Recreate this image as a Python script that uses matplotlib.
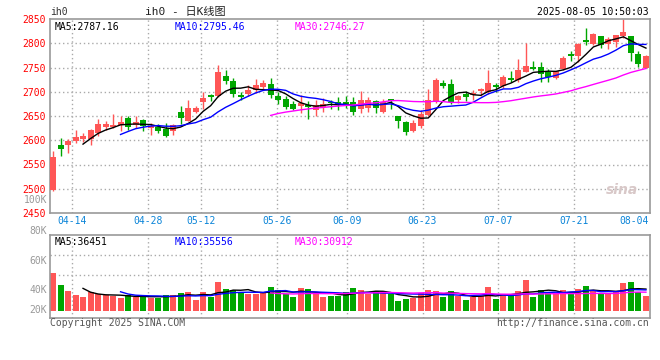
import matplotlib
matplotlib.use('Agg')
import matplotlib.pyplot as plt
import numpy as np
import pandas as pd

plt.rcParams['font.family'] = ['DejaVu Sans Mono', 'Noto Sans CJK SC']

# daily bars of ih0, oldest first
opens = [2498, 2591, 2591, 2599, 2603, 2603, 2614, 2627, 2628, 2631,
         2646, 2631, 2642, 2626, 2627, 2623, 2620, 2659, 2640, 2659,
         2679, 2694, 2692, 2733, 2723, 2694, 2696, 2704, 2710, 2716,
         2692, 2686, 2675, 2671, 2673, 2663, 2668, 2679, 2679, 2678,
         2678, 2664, 2666, 2680, 2658, 2685, 2651, 2638, 2620, 2629,
         2653, 2678, 2718, 2716, 2683, 2695, 2694, 2701, 2699, 2714,
         2711, 2729, 2725, 2740, 2752, 2751, 2740, 2728, 2747, 2777,
         2773, 2807, 2799, 2815, 2798, 2802, 2814, 2815, 2777, 2750]
highs = [2577, 2605, 2602, 2622, 2614, 2623, 2644, 2639, 2655, 2651,
         2651, 2649, 2644, 2635, 2634, 2635, 2634, 2671, 2683, 2671,
         2700, 2696, 2755, 2745, 2729, 2700, 2714, 2727, 2725, 2729,
         2700, 2692, 2680, 2694, 2680, 2682, 2688, 2683, 2690, 2692,
         2690, 2701, 2690, 2683, 2685, 2686, 2651, 2639, 2642, 2663,
         2706, 2729, 2725, 2727, 2693, 2701, 2703, 2707, 2744, 2719,
         2735, 2742, 2768, 2801, 2764, 2761, 2747, 2743, 2773, 2783,
         2800, 2831, 2821, 2815, 2812, 2817, 2851, 2815, 2784, 2775]
lows = [2495, 2567, 2573, 2594, 2596, 2591, 2608, 2622, 2625, 2620,
        2622, 2625, 2620, 2611, 2614, 2607, 2611, 2634, 2640, 2657,
        2665, 2681, 2689, 2716, 2689, 2682, 2692, 2697, 2703, 2688,
        2675, 2664, 2662, 2656, 2644, 2651, 2659, 2664, 2663, 2666,
        2653, 2657, 2659, 2656, 2656, 2665, 2625, 2611, 2616, 2625,
        2649, 2677, 2707, 2675, 2677, 2680, 2683, 2692, 2695, 2699,
        2707, 2720, 2721, 2740, 2745, 2721, 2721, 2727, 2745, 2764,
        2762, 2797, 2797, 2790, 2788, 2792, 2810, 2764, 2752, 2750]
closes = [2565, 2581, 2598, 2607, 2609, 2622, 2634, 2633, 2632, 2638,
          2627, 2638, 2629, 2630, 2620, 2609, 2631, 2646, 2667, 2666,
          2688, 2689, 2740, 2723, 2696, 2689, 2703, 2714, 2719, 2693,
          2684, 2668, 2665, 2677, 2669, 2672, 2675, 2677, 2672, 2675,
          2659, 2683, 2683, 2666, 2679, 2680, 2639, 2618, 2635, 2655,
          2683, 2725, 2711, 2678, 2692, 2690, 2698, 2705, 2719, 2709,
          2731, 2725, 2744, 2753, 2747, 2737, 2731, 2742, 2769, 2773,
          2798, 2803, 2819, 2797, 2809, 2817, 2824, 2779, 2757, 2773]
volumes = [63300, 42790, 32800, 26140, 23310, 31640, 27800, 26140, 24480, 21650,
           26140, 23310, 26140, 21650, 21650, 26140, 26140, 29970, 31640, 17820,
           31640, 23310, 48290, 36130, 34470, 30470, 28800, 28800, 29970, 39960,
           34470, 28800, 23310, 38300, 36130, 28800, 23310, 24480, 24980, 31640,
           38300, 34470, 27800, 32800, 30470, 28800, 16650, 19480, 22140, 29970,
           34470, 32800, 23310, 32800, 24480, 17820, 23310, 24480, 39960, 19480,
           27800, 24480, 32800, 51120, 23310, 34470, 31640, 27800, 34470, 27800,
           36130, 41130, 34470, 28800, 27800, 31640, 46620, 48290, 31640, 24480]

date_labels = ['04-14', '04-28', '05-12', '05-26', '06-09', '06-23', '07-07', '07-21', '08-04']
date_pos = [2.57, 12.66, 19.76, 29.91, 39.13, 49.23, 59.29, 69.41, 79.54]
price_ticks = [2450, 2500, 2550, 2600, 2650, 2700, 2750, 2800, 2850]

RED = '#ff5656'
GREEN = '#00a600'
GRID = '#aaaaaa'
FRAME = '#999999'
W, H = 660, 360

def fx(x):
    return x / W

def fy(y):
    return 1 - y / H

n = len(closes)
idx = np.arange(n)
o = np.array(opens); c = np.array(closes)
cols = [RED if c[i] >= o[i] else GREEN for i in range(n)]

fig = plt.figure(figsize=(6.6, 3.6), dpi=100)
ax = fig.add_axes([fx(50), fy(213), fx(600), 194 / H])
axv = fig.add_axes([fx(50), fy(318), fx(600), 83 / H])

xlim = (-0.4, 79.54)

# ---- price panel
for v in price_ticks[1:-1]:
    ax.axhline(v, color=GRID, ls=(0, (1, 2)), lw=1, zorder=0)
for p in date_pos[:-1]:
    ax.axvline(p, color=GRID, ls=(0, (1, 2)), lw=1, zorder=0)

ax.vlines(idx, lows, highs, colors=cols, lw=1, zorder=2)
body_lo = np.minimum(o, c)
body_h = np.maximum(np.abs(c - o), 1.5)
ax.bar(idx, body_h, bottom=body_lo, width=0.8, color=cols, lw=0, zorder=3)

s = pd.Series(closes)
ax.plot(idx, s.rolling(5).mean(), color='black', lw=1, zorder=4)
ax.plot(idx, s.rolling(10).mean(), color='#0000ff', lw=1, zorder=4)
ax.plot(idx, s.rolling(30).mean(), color='#ff00ff', lw=1, zorder=4)

ax.set_xlim(*xlim)
ax.set_ylim(2450, 2850)
ax.set_xticks([])
ax.set_yticks(price_ticks)
ax.set_yticklabels([str(v) for v in price_ticks], color='#ff0000', fontsize=7)
ax.tick_params(axis='y', length=0, pad=3)
for sp in ax.spines.values():
    sp.set_color(FRAME)
    sp.set_linewidth(1.2)

ax.text(0.007, 0.985, 'MA5:2787.16', transform=ax.transAxes, fontsize=7, color='black', va='top')
ax.text(fx(175 - 50) * W / 600, 0.985, 'MA10:2795.46', transform=ax.transAxes, fontsize=7, color='#0000ff', va='top')
ax.text(fx(295 - 50) * W / 600, 0.985, 'MA30:2746.27', transform=ax.transAxes, fontsize=7, color='#ff00ff', va='top')
ax.text(0.98, 0.12, 'sina', transform=ax.transAxes, fontsize=10, color='#d8c8c8',
        style='italic', fontweight='bold', ha='right', va='center', family='DejaVu Sans')

# ---- volume panel
vscale = 1665
axv.set_ylim(-7 * vscale, 76 * vscale)
axv.set_xlim(*xlim)
for yy in (255, 275):
    axv.axhline((311 - yy) * vscale, color=GRID, ls=(0, (1, 2)), lw=1, zorder=0)
for p in date_pos[:-1]:
    axv.axvline(p, color=GRID, ls=(0, (1, 2)), lw=1, zorder=0)
axv.bar(idx, volumes, width=0.8, color=cols, lw=0, zorder=2)
vs = pd.Series(volumes)
axv.plot(idx, vs.rolling(5).mean(), color='black', lw=1, zorder=3)
axv.plot(idx, vs.rolling(10).mean(), color='#0000ff', lw=1, zorder=3)
axv.plot(idx, vs.rolling(30).mean(), color='#ff00ff', lw=1, zorder=3)
axv.set_xticks([])
axv.set_yticks([])
for sp in axv.spines.values():
    sp.set_color(FRAME)
    sp.set_linewidth(1.2)
axv.text(0.007, 0.975, 'MA5:36451', transform=axv.transAxes, fontsize=7, color='black', va='top')
axv.text(125 / 600, 0.975, 'MA10:35556', transform=axv.transAxes, fontsize=7, color='#0000ff', va='top')
axv.text(245 / 600, 0.975, 'MA30:30912', transform=axv.transAxes, fontsize=7, color='#ff00ff', va='top')

# volume labels sit where the source chart puts them
for lab, yy in [('100K', 200), ('80K', 231), ('60K', 261), ('40K', 290), ('20K', 310)]:
    fig.text(fx(47), fy(yy), lab, fontsize=7, color='#999999', ha='right', va='center')

# date labels
for lab, p in zip(date_labels, date_pos):
    xp = 53 + p * 7.506
    if lab == date_labels[-1]:
        fig.text(fx(649), fy(221), lab, fontsize=7, color='#0a84d8', ha='right', va='center')
    else:
        fig.text(fx(xp), fy(221), lab, fontsize=7, color='#0a84d8', ha='center', va='center')

# header / footer
fig.text(fx(50), fy(12), 'ih0', fontsize=7, color='#333333', va='center')
fig.text(fx(185), fy(12), 'ih0 - 日K线图', fontsize=8, color='#222222', ha='center', va='center')
fig.text(fx(649), fy(12), '2025-08-05 10:50:03', fontsize=7, color='black', ha='right', va='center')
fig.text(fx(50), fy(323), 'Copyright 2025 SINA.COM', fontsize=7, color='#555555', va='center')
fig.text(fx(649), fy(323), 'http://finance.sina.com.cn', fontsize=7, color='#555555', ha='right', va='center')

fig.savefig('out.png', dpi=100)
